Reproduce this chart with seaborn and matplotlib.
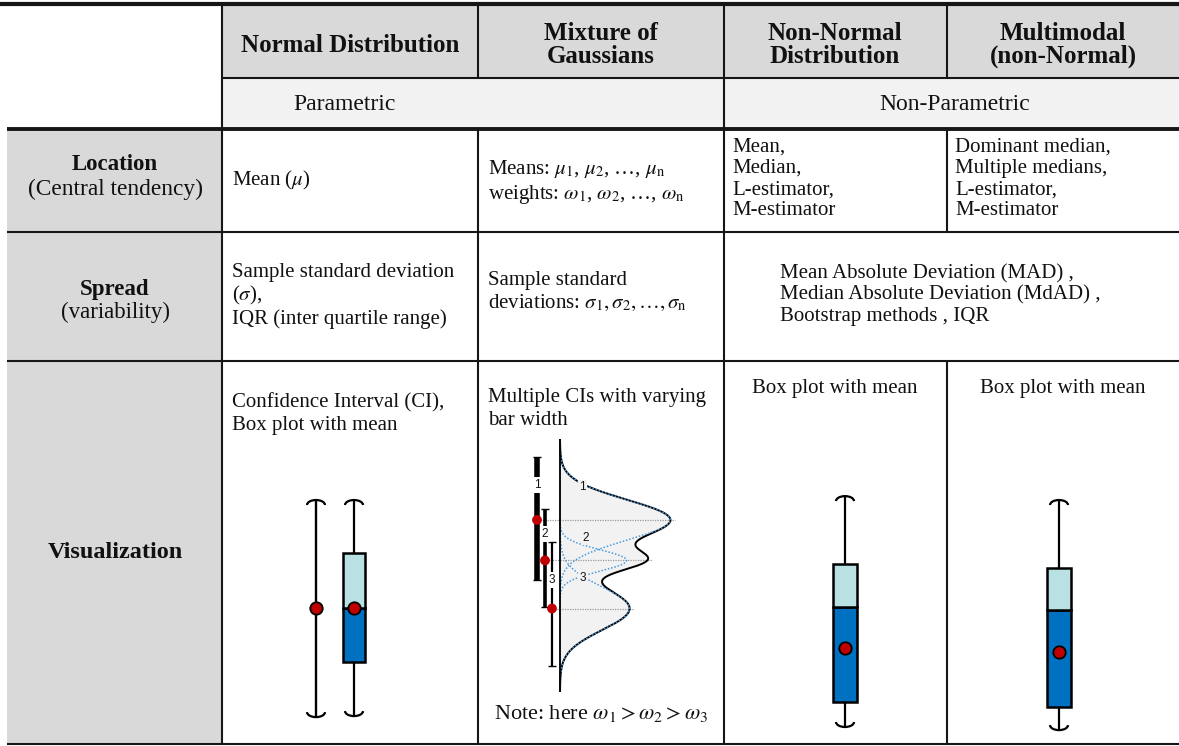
import numpy as np
import pandas as pd
import matplotlib
matplotlib.use("Agg")
import matplotlib.pyplot as plt
from matplotlib.patches import Rectangle, Arc
import seaborn as sns

# ---------------- data ----------------
col_headers = ["Normal Distribution", "Mixture of\nGaussians",
               "Non-Normal\nDistribution", "Multimodal\n(non-Normal)"]
group_labels = ["Parametric", "Non-Parametric"]
row_titles = ["Location", "Spread", "Visualization"]
row_subtitles = ["(Central tendency)", "(variability)", ""]

location_text = [
    "Mean ($\\mu$)",
    "Means: $\\mu_1$, $\\mu_2$, …, $\\mu_\\mathrm{n}$\nweights: $\\omega_1$, $\\omega_2$, …, $\\omega_\\mathrm{n}$",
    "Mean,\nMedian,\nL-estimator,\nM-estimator",
    "Dominant median,\nMultiple medians,\nL-estimator,\nM-estimator",
]
spread_text = [
    "Sample standard deviation\n($\\sigma$),\nIQR (inter quartile range)",
    "Sample standard\ndeviations: $\\sigma_1, \\sigma_2, \\ldots, \\sigma_\\mathrm{n}$",
    "Mean Absolute Deviation (MAD) ,\nMedian Absolute Deviation (MdAD) ,\nBootstrap methods , IQR",
]
viz_text = ["Confidence Interval (CI),\nBox plot with mean",
            "Multiple CIs with varying\nbar width",
            "Box plot with mean", "Box plot with mean"]
note_text = "Note: here $\\omega_1 > \\omega_2 > \\omega_3$"

# Normal panel: confidence interval (value scale 0-10)
ci_normal_low, ci_normal_mean, ci_normal_high = 0.88, 5.08, 9.23

# Box plots: Normal, Non-Normal, Multimodal (value scale 0-10)
box_whislo = [0.92, 0.50, 0.38]
box_q1 = [3.00, 1.46, 1.27]
box_med = [5.08, 5.12, 5.00]
box_q3 = [7.19, 6.77, 6.62]
box_whishi = [9.23, 9.38, 9.23]
box_mean = [5.08, 3.54, 3.38]

# Mixture of Gaussians (value scale 0-10, density scale 0-1)
mix_mu = [6.8, 5.2, 3.3]
mix_sd = [0.80, 0.42, 0.85]
mix_peak = [0.92, 0.555, 0.58]
mix_ci_low = [4.43, 3.36, 1.03]
mix_ci_high = [9.29, 7.23, 5.93]

# ---------------- style ----------------
sns.set_theme(style="white")
plt.rcParams["font.family"] = ["Liberation Serif", "DejaVu Serif"]
plt.rcParams["mathtext.fontset"] = "stix"
plt.rcParams["text.color"] = "#111111"

W, H = 1179, 746
fig = plt.figure(figsize=(W / 100, H / 100), dpi=100)
fig.patch.set_facecolor("white")
base = fig.add_axes([0, 0, 1, 1])
base.set_xlim(0, W)
base.set_ylim(H, 0)
base.axis("off")

LINE = "#161616"

# fills
base.add_patch(Rectangle((222, 4), W - 222, 74, color="#d9d9d9", lw=0))
base.add_patch(Rectangle((222, 78), W - 222, 51, color="#f2f2f2", lw=0))
base.add_patch(Rectangle((7, 129), 215, 744 - 129, color="#d9d9d9", lw=0))

# lines
base.hlines(4, 0, W, color=LINE, lw=3.0)
base.hlines(78, 222, W, color=LINE, lw=1.5)
base.hlines(129, 7, W, color=LINE, lw=2.8)
base.hlines([232, 361, 744], 7, W, color=LINE, lw=1.5)
base.vlines(222, 4, 744, color=LINE, lw=1.5)
base.vlines([478, 478], [4, 129], [78, 744], color=LINE, lw=1.5)
base.vlines(724, 4, 744, color=LINE, lw=1.5)
base.vlines([947, 947, 947], [4, 129, 361], [78, 232, 744], color=LINE, lw=1.5)

HDR = 18
BODY = 15

# column headers
col_cx = [350, 601, 835, 1063]
for cx, t in zip(col_cx, col_headers):
    base.text(cx, 45, t, ha="center", va="center", fontsize=HDR,
              fontweight="bold", linespacing=0.95)
base.text(345, 104, group_labels[0], ha="center", va="center", fontsize=17)
base.text(955, 104, group_labels[1], ha="center", va="center", fontsize=17)

# row headers
base.text(115, 165, row_titles[0], ha="center", va="center", fontsize=16.5, fontweight="bold")
base.text(115, 189, row_subtitles[0], ha="center", va="center", fontsize=16.8)
base.text(115, 290, row_titles[1], ha="center", va="center", fontsize=16.5, fontweight="bold")
base.text(115, 312, row_subtitles[1], ha="center", va="center", fontsize=16.5)
base.text(115, 553, row_titles[2], ha="center", va="center", fontsize=17.5, fontweight="bold")

# location row
base.text(232, 180, location_text[0], ha="left", va="center", fontsize=BODY)
base.text(488, 182, location_text[1], ha="left", va="center", fontsize=BODY, linespacing=1.2)
base.text(732, 179, location_text[2], ha="left", va="center", fontsize=BODY, linespacing=1.15)
base.text(955, 179, location_text[3], ha="left", va="center", fontsize=BODY, linespacing=1.15)

# spread row
base.text(232, 296, spread_text[0], ha="left", va="center", fontsize=BODY, linespacing=1.13)
base.text(488, 292, spread_text[1], ha="left", va="center", fontsize=BODY, linespacing=1.2)
base.text(780, 295, spread_text[2], ha="left", va="center", fontsize=BODY, linespacing=1.13)

# visualization row texts
base.text(232, 414, viz_text[0], ha="left", va="center", fontsize=BODY, linespacing=1.25)
base.text(488, 409, viz_text[1], ha="left", va="center", fontsize=BODY, linespacing=1.25)
base.text(835, 388, viz_text[2], ha="center", va="center", fontsize=BODY)
base.text(1063, 388, viz_text[3], ha="center", va="center", fontsize=BODY)
base.text(601, 713, note_text, ha="center", va="center", fontsize=16)


def px_axes(x0, y0, x1, y1):
    ax = fig.add_axes([x0 / W, 1 - y1 / H, (x1 - x0) / W, (y1 - y0) / H])
    ax.axis("off")
    ax.patch.set_alpha(0)
    return ax


LIGHT = "#b9e0e3"
DARK = "#0070c0"
RED = "#c00000"


def caps(ax, x, lo, hi, ppx, ppy, wpx=18, dpx=5, lw=1.6):
    w = wpx / ppx
    h = 2 * dpx / ppy
    ax.add_patch(Arc((x, hi - h / 2), w, h, theta1=0, theta2=180, color="black", lw=lw, clip_on=False))
    ax.add_patch(Arc((x, lo + h / 2), w, h, theta1=180, theta2=360, color="black", lw=lw, clip_on=False))


def boxplot(ax, x, i, ppx, ppy, wpx):
    w = wpx / ppx
    ax.vlines(x, box_whislo[i], box_q1[i], color="black", lw=1.6)
    ax.vlines(x, box_q3[i], box_whishi[i], color="black", lw=1.6)
    ax.bar(x, box_med[i] - box_q1[i], bottom=box_q1[i], width=w, color=DARK,
           edgecolor="black", linewidth=1.8, zorder=3)
    ax.bar(x, box_q3[i] - box_med[i], bottom=box_med[i], width=w, color=LIGHT,
           edgecolor="black", linewidth=1.8, zorder=3)
    caps(ax, x, box_whislo[i], box_whishi[i], ppx, ppy)
    sns.scatterplot(x=[x], y=[box_mean[i]], s=80, color=RED, edgecolor="black",
                    linewidth=1.3, zorder=6, ax=ax, legend=False, clip_on=False)


# Normal panel
axn = px_axes(297, 480, 373, 740)
axn.set_xlim(-0.5, 1.5)
axn.set_ylim(0, 10)
axn.vlines(0, ci_normal_low, ci_normal_high, color="black", lw=1.7)
caps(axn, 0, ci_normal_low, ci_normal_high, 38, 26)
sns.scatterplot(x=[0], y=[ci_normal_mean], s=80, color=RED, edgecolor="black",
                linewidth=1.3, zorder=6, ax=axn, legend=False, clip_on=False)
boxplot(axn, 1, 0, 38, 26, 22)

# Non-normal panel
axnn = px_axes(805, 480, 885, 740)
axnn.set_xlim(-0.5, 0.5)
axnn.set_ylim(0, 10)
boxplot(axnn, 0, 1, 80, 26, 24)

# Multimodal panel
axmm = px_axes(1019, 480, 1099, 740)
axmm.set_xlim(-0.5, 0.5)
axmm.set_ylim(0, 10)
boxplot(axmm, 0, 2, 80, 26, 24)

# Mixture panel
axm = px_axes(520, 439, 700, 692)
axm.set_xlim(-40 / 120, 140 / 120)
axm.set_ylim(0, 10)
vgrid = np.linspace(0, 10, 600)
comps = [p * np.exp(-0.5 * ((vgrid - m) / s) ** 2) for m, s, p in zip(mix_mu, mix_sd, mix_peak)]
total = np.sum(comps, axis=0)
axm.fill_betweenx(vgrid, 0, total, color="#f2f2f2", lw=0, zorder=1)
sns.lineplot(x=total, y=vgrid, sort=False, estimator=None, orient="y", color="black",
             lw=1.4, ax=axm, zorder=3)
for c in comps:
    sns.lineplot(x=c, y=vgrid, sort=False, estimator=None, orient="y", color="#4a9be0",
                 lw=1.1, linestyle=(0, (1, 1.2)), ax=axm, zorder=4)
axm.vlines(0, 0, 10, color="black", lw=1.3, zorder=5)

ci_x = [-23 / 120, -15 / 120, -8 / 120]
ci_lw = [4.0, 2.6, 1.6]
for i in range(3):
    peak_here = np.interp(mix_mu[i], vgrid, total)
    axm.hlines(mix_mu[i], ci_x[i], peak_here + 0.04, color="#9a9a9a", lw=0.9,
               linestyles=(0, (1, 1)), zorder=2)
    axm.vlines(ci_x[i], mix_ci_low[i], mix_ci_high[i], color="black", lw=ci_lw[i], zorder=6)
    axm.hlines([mix_ci_low[i], mix_ci_high[i]], ci_x[i] - 0.035, ci_x[i] + 0.035,
               color="black", lw=1.0, zorder=6)

bar_label_v = [8.18, 6.25, 4.43]
for i in range(3):
    axm.text(ci_x[i], bar_label_v[i], str(i + 1), ha="center", va="center", fontsize=8.5,
             family="Liberation Sans", zorder=7,
             bbox=dict(facecolor="white", edgecolor="none", pad=1.2))
comp_label_xy = [(0.19, 8.1), (0.21, 6.09), (0.19, 4.5)]
for i, (lx, ly) in enumerate(comp_label_xy):
    axm.text(lx, ly, str(i + 1), ha="center", va="center", fontsize=8.5,
             family="Liberation Sans", zorder=7,
             bbox=dict(facecolor="#f2f2f2", edgecolor="none", pad=0.8))
sns.scatterplot(x=ci_x, y=mix_mu, s=50, color=RED, edgecolor="none", zorder=8,
                ax=axm, legend=False, clip_on=False)

fig.savefig("out.png", dpi=100, facecolor="white")
